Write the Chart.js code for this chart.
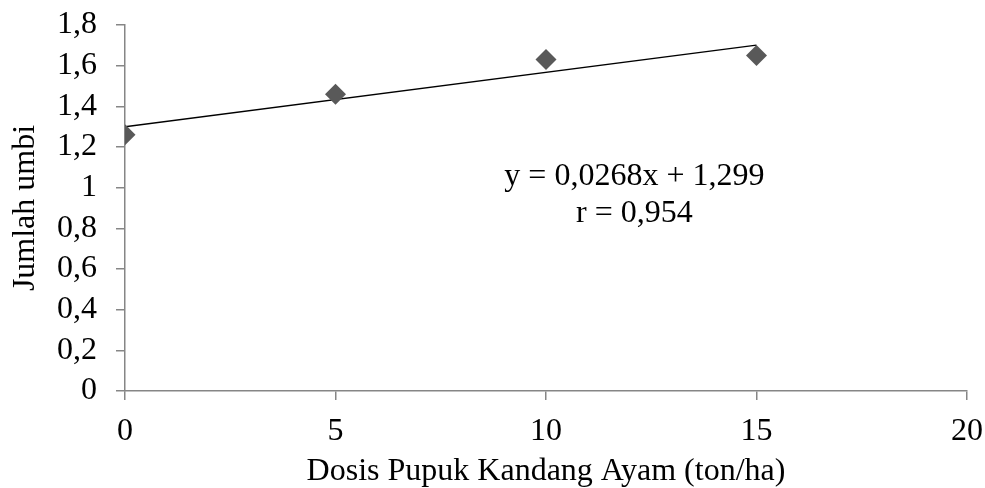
<!DOCTYPE html>
<html>
<head>
<meta charset="utf-8">
<script src="https://cdn.jsdelivr.net/npm/chart.js@4.4.1/dist/chart.umd.min.js"></script>
<style>
  html, body { margin: 0; padding: 0; background: #fff; }
  #wrap { width: 985px; height: 488px; position: relative; }
</style>
</head>
<body>
<div id="wrap"><canvas id="grafica"></canvas></div>
<script>
// datos
const dosis = [0, 5, 10, 15];            // ton/ha
const jumlahUmbi = [1.26, 1.46, 1.63, 1.65];
const garisX = [0, 15];                   // tramo de la recta de tendencia
const garisY = [1.299, 1.701];            // y = 0,0268x + 1,299
const ticksX = [0, 5, 10, 15, 20];
const ticksY = [0, 0.2, 0.4, 0.6, 0.8, 1, 1.2, 1.4, 1.6, 1.8];
const persamaan = ['y = 0,0268x + 1,299', 'r = 0,954'];
const posPersamaan = { x: 12.1, y: [1.013, 0.833] };

const fuente = '"Liberation Serif", "Times New Roman", serif';
const gris = '#868686';

// escribe la ecuacion sobre el area del grafico
const textoEcuacion = {
    id: 'textoEcuacion',
    afterDatasetsDraw(chart) {
        const ctx = chart.ctx;
        const sx = chart.scales.x, sy = chart.scales.y;
        ctx.save();
        ctx.fillStyle = '#000';
        ctx.font = '32px ' + fuente;
        ctx.textAlign = 'center';
        ctx.textBaseline = 'alphabetic';
        persamaan.forEach((t, i) => {
            ctx.fillText(t, sx.getPixelForValue(posPersamaan.x), sy.getPixelForValue(posPersamaan.y[i]));
        });
        ctx.restore();
    }
};

let ctx = document.getElementById('grafica').getContext('2d');
let grafica = new Chart(ctx, {
    type: 'scatter',
    data: {
        datasets: [{
            label: 'Jumlah umbi',
            data: dosis.map((x, i) => ({x: x, y: jumlahUmbi[i]})),
            pointStyle: 'rectRot',
            pointRadius: 10.5,
            pointHoverRadius: 10.5,
            backgroundColor: '#595959',
            borderColor: '#595959',
            borderWidth: 0,
            order: 1
        }, {
            label: 'Linear',
            type: 'line',
            data: garisX.map((x, i) => ({x: x, y: garisY[i]})),
            borderColor: '#000',
            borderWidth: 1.5,
            pointRadius: 0,
            fill: false,
            order: 2
        }]
    },
    options: {
        responsive: true,
        maintainAspectRatio: false,
        animation: false,
        layout: { padding: { top: 25, right: 18, left: 0, bottom: 0 } },
        plugins: {
            legend: { display: false },
            tooltip: { enabled: false }
        },
        scales: {
            x: {
                type: 'linear',
                min: 0, max: 20,
                afterBuildTicks: s => { s.ticks = ticksX.map(v => ({value: v})); },
                afterFit: s => { s.height = 97; s.paddingLeft = 0; s.paddingRight = 0; },
                border: { color: gris, width: 1.5 },
                grid: { drawOnChartArea: false, drawTicks: true, tickLength: 9, color: gris, lineWidth: 1.5 },
                ticks: {
                    color: '#000',
                    padding: 12,
                    maxRotation: 0,
                    autoSkip: false,
                    font: { family: fuente, size: 32 },
                    callback: v => String(v)
                },
                title: {
                    display: true,
                    text: 'Dosis Pupuk Kandang Ayam (ton/ha)',
                    color: '#000',
                    font: { family: fuente, size: 32, lineHeight: 1.0 },
                    padding: { top: 0, bottom: 0 }
                }
            },
            y: {
                min: 0, max: 1.8,
                afterBuildTicks: s => { s.ticks = ticksY.map(v => ({value: v})); },
                afterFit: s => { s.width = 125; s.paddingTop = 0; s.paddingBottom = 0; },
                border: { color: gris, width: 1.5 },
                grid: { drawOnChartArea: false, drawTicks: true, tickLength: 9, color: gris, lineWidth: 1.5 },
                ticks: {
                    color: '#000',
                    padding: 19,
                    autoSkip: false,
                    font: { family: fuente, size: 32 },
                    callback: v => String(Math.round(v * 10) / 10).replace('.', ',')
                },
                title: {
                    display: true,
                    text: 'Jumlah umbi',
                    color: '#000',
                    font: { family: fuente, size: 32 },
                    padding: { top: 6, bottom: 0 }
                }
            }
        }
    },
    plugins: [textoEcuacion]
});
</script>
</body>
</html>
